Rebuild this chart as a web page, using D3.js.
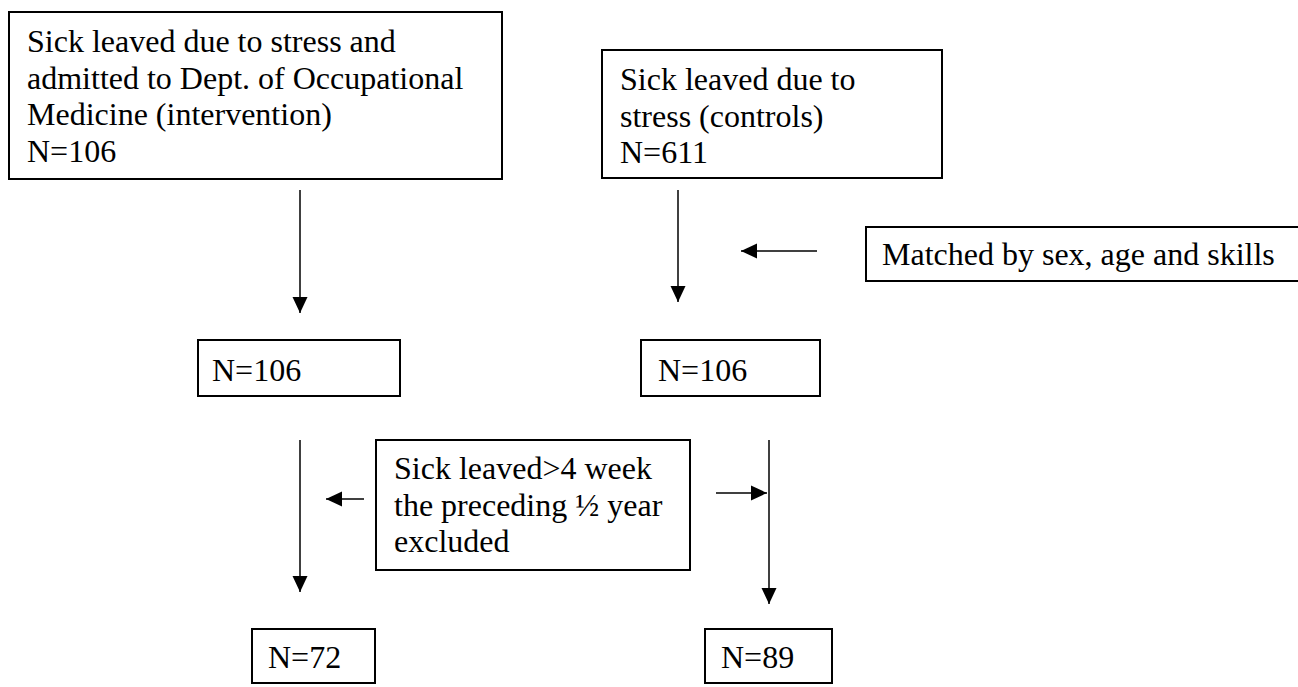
<!DOCTYPE html>
<html>
<head>
<meta charset="utf-8">
<script src="https://cdn.jsdelivr.net/npm/d3@7"></script>
<style>
  body { margin: 0; background: #fff; }
  text { font-family: "Liberation Serif", "Times New Roman", serif; font-size: 32px; fill: #000; }
</style>
</head>
<body>
<script>
// flow counts per stage: start, after matching, after exclusion
var interventionN = [106, 106, 72],
    controlN = [611, 106, 89];

var startText = [
    ["Sick leaved due to stress and", "admitted to Dept. of Occupational", "Medicine (intervention)"],
    ["Sick leaved due to", "stress (controls)"]
];
var matchText = ["Matched by sex, age and skills"];
var excludeText = ["Sick leaved>4 week", "the preceding \u00bd year", "excluded"];

var width = 1298,
    height = 687,
    lineGap = 36.5;

// box layout (pixels)
var boxes = [
    {x: 9,   y: 12,  w: 493, h: 167, tx: 27,  ty: 52,  lines: startText[0].concat(["N=" + interventionN[0]])},
    {x: 602, y: 50,  w: 340, h: 128, tx: 620, ty: 90,  lines: startText[1].concat(["N=" + controlN[0]])},
    {x: 866, y: 227, w: 460, h: 54,  tx: 882, ty: 265, lines: matchText},
    {x: 198, y: 340, w: 202, h: 56,  tx: 212, ty: 381, lines: ["N=" + interventionN[1]]},
    {x: 641, y: 340, w: 179, h: 56,  tx: 658, ty: 381, lines: ["N=" + controlN[1]]},
    {x: 376, y: 440, w: 314, h: 130, tx: 394, ty: 479, lines: excludeText},
    {x: 252, y: 629, w: 123, h: 54,  tx: 268, ty: 668, lines: ["N=" + interventionN[2]]},
    {x: 705, y: 629, w: 127, h: 54,  tx: 721, ty: 668, lines: ["N=" + controlN[2]]}
];

// arrows: [x1, y1, x2, y2], head at the second point
var arrows = [
    [300, 190, 300, 313],
    [678, 190, 678, 302],
    [817, 251, 741, 251],
    [300, 440, 300, 592],
    [769, 440, 769, 604],
    [364, 499, 326, 499],
    [716, 493, 767, 493]
];

var svg = d3.select("body").append("svg")
    .attr("width", width)
    .attr("height", height);

svg.append("defs").append("marker")
    .attr("id", "head")
    .attr("viewBox", "0 -8 16 16")
    .attr("refX", 16)
    .attr("refY", 0)
    .attr("markerWidth", 16)
    .attr("markerHeight", 16)
    .attr("markerUnits", "userSpaceOnUse")
    .attr("orient", "auto")
    .append("path")
    .attr("d", "M0,-7.5L16,0L0,7.5Z")
    .attr("fill", "#000");

svg.append("g").selectAll("line")
    .data(arrows)
    .enter().append("line")
    .attr("x1", function(d) { return d[0]; })
    .attr("y1", function(d) { return d[1]; })
    .attr("x2", function(d) { return d[2]; })
    .attr("y2", function(d) { return d[3]; })
    .attr("stroke", "#000")
    .attr("stroke-width", 1.5)
    .attr("marker-end", "url(#head)");

var box = svg.append("g").selectAll("g")
    .data(boxes)
    .enter().append("g");

box.append("rect")
    .attr("x", function(d) { return d.x; })
    .attr("y", function(d) { return d.y; })
    .attr("width", function(d) { return d.w; })
    .attr("height", function(d) { return d.h; })
    .attr("fill", "#fff")
    .attr("stroke", "#000")
    .attr("stroke-width", 2);

box.append("text")
    .attr("x", function(d) { return d.tx; })
    .attr("y", function(d) { return d.ty; })
    .selectAll("tspan")
    .data(function(d) { return d.lines.map(function(t) { return {t: t, x: d.tx}; }); })
    .enter().append("tspan")
    .attr("x", function(d) { return d.x; })
    .attr("dy", function(d, i) { return i ? lineGap : 0; })
    .text(function(d) { return d.t; });
</script>
</body>
</html>
